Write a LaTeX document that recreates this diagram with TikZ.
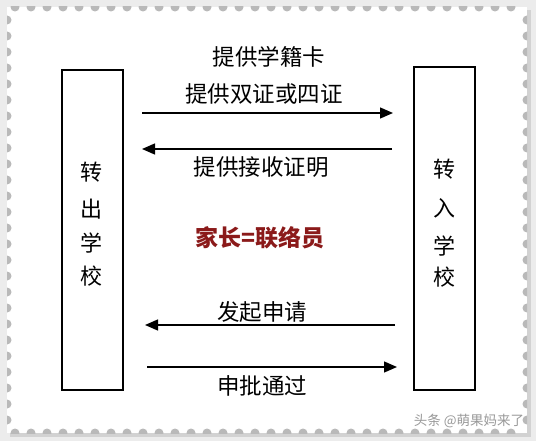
\documentclass[tikz,border=0pt]{standalone}
\usepackage{fontspec}
\newfontfamily\cjk{Noto Sans CJK SC}
\usetikzlibrary{arrows.meta}
\definecolor{darkred}{HTML}{8B1A1A}
\tikzset{
  box/.style={draw=black, line width=1.6pt, fill=white, inner sep=0pt},
  lbl/.style={font=\cjk\fontsize{22.5}{22.5}\selectfont, inner sep=0pt},
  vch/.style={font=\cjk\fontsize{22}{22}\selectfont, inner sep=0pt},
  arr/.style={line width=1.3pt, -{Triangle[length=13pt,width=11pt]}},
  notch/.style={fill=gray!55, draw=none},
}
\begin{document}
\begin{tikzpicture}[x=1pt,y=-1pt]
\useasboundingbox (0,0) rectangle (536,441);
% paper with shadow
\fill[gray!15] (0,0) rectangle (536,441);
\fill[gray!35] (10,10) rectangle (531,437);
\fill[white] (7,7) rectangle (527,433);
\begin{scope}
  \clip (7,7) rectangle (527,433);
  \foreach \x in {15,31,...,520} {
    \fill[notch] (\x,7) circle (4.5);
    \fill[notch] (\x,433) circle (4.5);
  }
  \foreach \y in {20,36,...,425} {
    \fill[notch] (7,\y) circle (4.5);
    \fill[notch] (527,\y) circle (4.5);
  }
\end{scope}
% boxes
\node[box, minimum width=61pt, minimum height=320pt] (L) at (92.5,230) {};
\node[box, minimum width=61pt, minimum height=323pt] (R) at (444.5,228.5) {};
% box texts
\node[vch] (l1) at (91,172) {转};
\node[vch] (l2) at (91,209) {出};
\node[vch] (l3) at (91,243) {学};
\node[vch] (l4) at (91,276) {校};
\node[vch] (r1) at (444,169) {转};
\node[vch] (r2) at (444,208) {入};
\node[vch] (r3) at (444,246) {学};
\node[vch] (r4) at (444,277) {校};
% labels
\node[lbl] (t1) at (269,57) {提供学籍卡};
\node[lbl] (t2) at (264,94) {提供双证或四证};
\node[lbl] (t3) at (261,167) {提供接收证明};
\node[font=\cjk\bfseries\fontsize{23}{23}\selectfont, text=darkred, inner sep=0pt] (t4) at (260,238) {家长=联络员};
\node[lbl] (t5) at (262,312) {发起申请};
\node[lbl] (t6) at (262,386) {申批通过};
% arrows
\coordinate (a1s) at (142,113); \coordinate (a1e) at (393,113);
\coordinate (a2s) at (392,149); \coordinate (a2e) at (142,149);
\coordinate (a3s) at (395,325); \coordinate (a3e) at (145,325);
\coordinate (a4s) at (147,367); \coordinate (a4e) at (397,367);
\draw[arr] (a1s) -- (a1e);
\draw[arr] (a2s) -- (a2e);
\draw[arr] (a3s) -- (a3e);
\draw[arr] (a4s) -- (a4e);
% watermark
\node[font=\cjk\fontsize{13.5}{13.5}\selectfont, text=gray!80, inner sep=0pt] (wm) at (469,421) {头条 @萌果妈来了};
\end{tikzpicture}
\end{document}
